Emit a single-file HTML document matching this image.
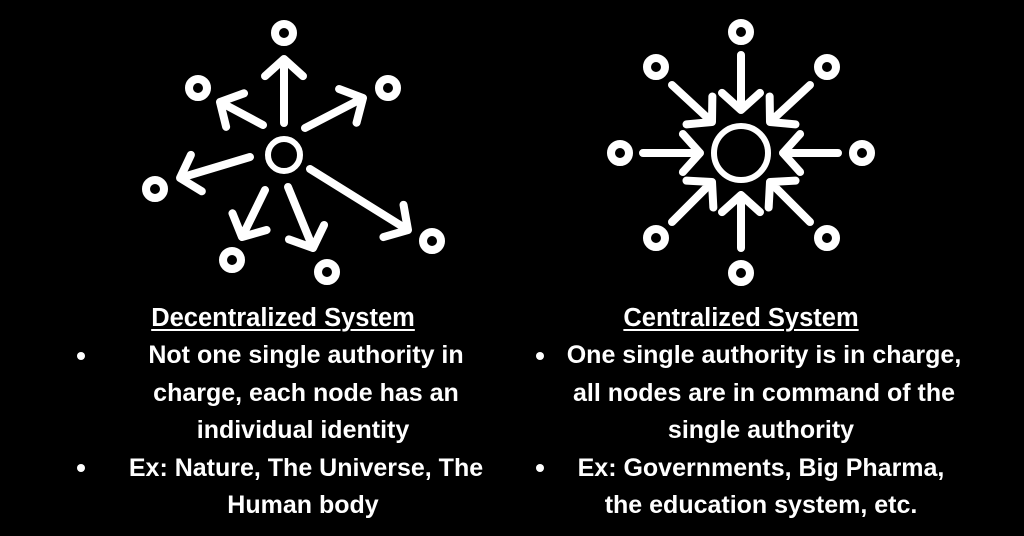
<!DOCTYPE html>
<html><head><style>
body{margin:0;width:1024px;height:536px;background:#000;overflow:hidden;position:relative;font-family:"Liberation Sans",Arial,sans-serif;font-weight:bold;color:#fff}
.t{position:absolute;white-space:nowrap;font-size:25px;line-height:26px;transform:translateX(-50%)}
.u{text-decoration:underline;text-decoration-thickness:2px;text-underline-offset:3px;font-size:25.5px}
.b{position:absolute;width:8px;height:8px;border-radius:50%;background:#fff}
svg{position:absolute;left:0;top:0}
</style></head><body>
<svg width="1024" height="300" viewBox="0 0 1024 300" fill="none" stroke="#fff" stroke-linecap="round" stroke-linejoin="round">
<g id="g"></g>
</svg>
<div class="t u" style="left:283px;top:305px">Decentralized System</div>
<div class="t" style="left:306px;top:342px">Not one single authority in</div>
<div class="t" style="left:306px;top:380px">charge, each node has an</div>
<div class="t" style="left:303px;top:417px">individual identity</div>
<div class="t" style="left:306px;top:455px">Ex: Nature, The Universe, The</div>
<div class="t" style="left:303px;top:492px">Human body</div>
<div class="b" style="left:77px;top:352px"></div>
<div class="b" style="left:77px;top:464px"></div>
<div class="t u" style="left:741px;top:305px">Centralized System</div>
<div class="t" style="left:764px;top:342px">One single authority is in charge,</div>
<div class="t" style="left:764px;top:380px">all nodes are in command of the</div>
<div class="t" style="left:761px;top:417px">single authority</div>
<div class="t" style="left:761px;top:455px">Ex: Governments, Big Pharma,</div>
<div class="t" style="left:761px;top:492px">the education system, etc.</div>
<div class="b" style="left:536px;top:352px"></div>
<div class="b" style="left:536px;top:464px"></div>
<script>
var g=document.getElementById('g'),s='';
function c(x,y,r,w){s+='<circle cx="'+x+'" cy="'+y+'" r="'+r+'" stroke-width="'+w+'"/>';}
function a(x1,y1,x2,y2){var dx=x2-x1,dy=y2-y1,L=Math.hypot(dx,dy),ux=dx/L,uy=dy/L,h=19;
var bx=x2-ux*h*0.9,by=y2-uy*h*0.9,px=-uy*h,py=ux*h;
s+='<path stroke-width="8" d="M'+x1+' '+y1+'L'+x2+' '+y2+'M'+(bx+px)+' '+(by+py)+'L'+x2+' '+y2+'L'+(bx-px)+' '+(by-py)+'"/>';}
c(284,155,16,6);
[[284,33],[198,88],[388,88],[155,189],[232,260],[327,272],[432,241]].forEach(function(p){c(p[0],p[1],9,8)});
a(284,123,284,59);a(263,125,220,102);a(305,128,363,98);a(250,157,180,178);a(265,190,242,237);a(288,187,313,248);a(310,169,408,230);
c(741,153,27,6);
[[741,32],[620,153],[862,153],[741,273],[656,67],[827,67],[656,238],[827,238]].forEach(function(p){c(p[0],p[1],9,8)});
a(741,55,741,110);a(643,153,700,153);a(838,153,783,153);a(741,248,741,195);
a(672,85,712,122);a(810,85,770,122);a(672,222,712,182);a(810,222,770,182);
g.innerHTML=s;
</script>
</body></html>
